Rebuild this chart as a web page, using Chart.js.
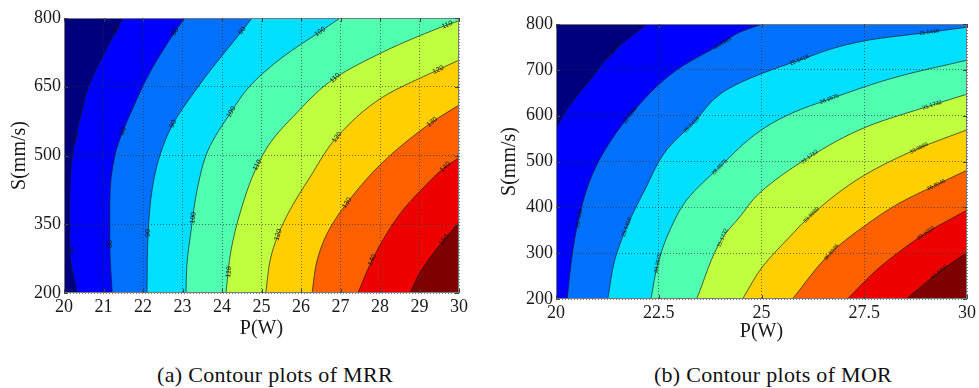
<!DOCTYPE html>
<html><head><meta charset="utf-8">
<script src="https://cdn.jsdelivr.net/npm/chart.js@4.4.1/dist/chart.umd.min.js"></script>
<style>
html,body{margin:0;padding:0;background:#fff;width:979px;height:388px;overflow:hidden;}
#ca{position:absolute;left:0;top:0;}
#cb{position:absolute;left:490px;top:6px;}
.cap{position:absolute;top:362px;font-family:"Liberation Serif",Tinos,"Times New Roman",serif;font-size:22px;letter-spacing:0.3px;line-height:26px;color:#111;white-space:nowrap;transform:translateX(-50%);}
</style></head><body>
<canvas id="ca" width="490" height="345"></canvas>
<canvas id="cb" width="489" height="345"></canvas>
<div class="cap" style="left:275px">(a) Contour plots of MRR</div>
<div class="cap" style="left:773px">(b) Contour plots of MOR</div>
<script>
// ---------- (a) MRR ----------
const mrrXTicks = [20,21,22,23,24,25,26,27,28,29,30];
const mrrYTicks = [200,350,500,650,800];
const mrrLevels = ['70','80','90','100','110','120','130','140','150'];
const mrr70  = [[20.33,200],[20.15,294],[20.15,403],[20.20,490],[20.30,540],[20.46,599],[20.61,647],[20.84,693],[21.29,767],[21.49,800]];
const mrr80  = [[21.22,200],[21.16,305],[21.16,403],[21.29,501],[21.49,553],[21.72,599],[21.97,647],[22.25,693],[22.81,770],[23.06,800]];
const mrr90  = [[22.10,200],[22.13,331],[22.23,425],[22.43,501],[22.76,569],[23.37,647],[23.77,693],[24.51,772],[24.76,800]];
const mrr100 = [[23.09,200],[23.11,261],[23.22,338],[23.37,425],[23.65,512],[24.23,595],[24.71,652],[25.54,715],[26.48,770],[26.99,800]];
const mrr110 = [[24.10,200],[24.23,294],[24.48,381],[24.84,468],[25.24,530],[25.77,582],[26.86,669],[28.08,726],[28.94,759],[29.70,785],[30,794]];
const mrr120 = [[25.11,200],[25.22,272],[25.42,327],[25.72,381],[26.23,453],[26.91,540],[28.08,628],[29.47,687],[30,708]];
const mrr130 = [[26.28,200],[26.41,272],[26.68,333],[27.16,396],[28.08,486],[29.32,573],[30,610]];
const mrr140 = [[27.44,200],[27.80,272],[28.18,331],[28.58,381],[29.11,431],[29.65,475],[30,495]];
const mrr150 = [[28.76,200],[28.96,237],[29.22,272],[29.62,316],[30,355]];
const mrrLabelAt = [[0,20.30,540],[0,20.15,294],[0,21.32,774],[1,21.49,553],[1,21.16,307],[1,22.81,770],
  [2,22.76,569],[2,22.13,331],[2,24.51,772],[3,24.23,595],[3,23.27,364],[3,26.48,770],
  [4,26.86,669],[4,24.17,246],[4,29.70,785],[4,24.89,479],[5,29.47,687],[5,26.91,540],[5,25.42,327],
  [6,29.32,573],[6,27.16,396],[7,29.65,475],[7,27.80,272],[8,29.62,316]];

// ---------- (b) MOR ----------
const morXTicks = [20,22.5,25,27.5,30];
const morYTicks = [200,300,400,500,600,700,800];
const morLevels = ['19.9104','22.7261','25.5418','28.3575','31.1732','33.9889','36.8046','39.6203','42.4360'];
const mor1 = [[20,573],[20.34,623],[20.83,678],[21.38,739],[22.21,800]];
const mor2 = [[20.27,200],[20.41,307],[20.56,377],[20.83,460],[21.19,525],[21.80,601],[22.94,700],[24.05,758],[24.47,782],[25.02,800]];
const mor3 = [[21.26,200],[21.43,285],[21.72,357],[22.16,438],[22.69,525],[23.30,580],[24.22,660],[25.92,721],[27.62,765],[29.08,782],[30,793]];
const mor4 = [[22.31,200],[22.48,278],[22.77,350],[23.18,416],[23.98,488],[25.0,569],[25.75,606],[26.65,636],[28.35,686],[30,721]];
const mor5 = [[23.42,200],[24.05,333],[24.47,379],[24.95,431],[26.17,510],[27.62,578],[29.15,623],[30,647]];
const mor6 = [[24.54,200],[25.02,270],[25.68,335],[26.21,383],[27.50,470],[28.83,529],[30,569]];
const mor7 = [[25.75,200],[26.70,302],[27.50,359],[28.35,409],[29.25,449],[30,481]];
const mor8 = [[27.09,200],[27.86,268],[28.47,311],[29.0,344],[30,394]];
const mor9 = [[28.52,200],[29.32,259],[30,302]];
const morLabelAt = [[0,21.38,739],[1,21.80,601],[1,24.05,758],[1,20.56,377],[2,23.30,580],[2,25.92,721],[2,29.08,782],[2,21.72,357],
  [3,26.65,636],[3,23.98,488],[3,22.48,278],[4,29.15,623],[4,26.17,510],[4,24.05,333],[5,28.83,529],[5,26.21,383],
  [6,29.25,449],[6,26.70,302],[7,29.0,344],[8,29.32,259]];

const bandColors = ['#00007F','#0000FF','#0070FF','#00DFFF','#50FFAF','#BFFF40','#FFCF00','#FF6000','#EF0000','#7F0000'];
const serif = '"Liberation Serif", Tinos, "Times New Roman", serif';

function makeChart(id, s) {
  const xMin = s.xTicks[0], xMax = s.xTicks[s.xTicks.length-1];
  const yMin = s.yTicks[0], yMax = s.yTicks[s.yTicks.length-1];
  const toPts = l => l.map(p => ({x:p[0], y:p[1]}));
  const sets = [];
  s.lines.forEach((l, i) => {
    // contour line; the band of higher values lies to its right, filled up to the right edge
    sets.push({ data: toPts(l), showLine: true, borderColor: 'rgba(25,25,25,0.85)', borderWidth: 0.8,
      backgroundColor: bandColors[i+1], fill: { value: xMax },
      cubicInterpolationMode: 'monotone', pointRadius: 0, pointHoverRadius: 0 });
    if (l[0][1] > yMin) {
      // line starts on the left edge: band also covers the full width below it
      sets.push({ data: [{x:xMin, y:yMin}, {x:xMin, y:l[0][1]}], showLine: true, borderWidth: 0,
        borderColor: 'rgba(0,0,0,0)', backgroundColor: bandColors[i+1], fill: { value: xMax },
        pointRadius: 0, pointHoverRadius: 0 });
    }
  });
  sets.reverse();

  const deco = {
    id: 'deco' + id,
    beforeDatasetsDraw(chart) {
      const a = chart.chartArea, c = chart.ctx;
      c.save(); c.fillStyle = bandColors[0];
      c.fillRect(a.left, a.top, a.right - a.left, a.bottom - a.top); c.restore();
    },
    afterDatasetsDraw(chart) {
      const a = chart.chartArea, c = chart.ctx, xs = chart.scales.x, ys = chart.scales.y;
      c.save();
      c.beginPath(); c.rect(a.left, a.top, a.right-a.left, a.bottom-a.top); c.clip();
      c.font = s.labelFont; c.fillStyle = '#111'; c.textAlign = 'center'; c.textBaseline = 'middle';
      s.labelAt.forEach(([li, x, y]) => {
        const line = s.lines[li];
        const px = xs.getPixelForValue(x), py = ys.getPixelForValue(y);
        let best = Infinity, ang = 0;
        for (let k = 0; k < line.length - 1; k++) {
          const ax = xs.getPixelForValue(line[k][0]), ay = ys.getPixelForValue(line[k][1]);
          const bx = xs.getPixelForValue(line[k+1][0]), by = ys.getPixelForValue(line[k+1][1]);
          const dx = bx-ax, dy = by-ay;
          const t = Math.max(0, Math.min(1, ((px-ax)*dx + (py-ay)*dy) / (dx*dx + dy*dy)));
          const d = Math.hypot(ax + t*dx - px, ay + t*dy - py);
          if (d < best) { best = d; ang = Math.atan2(dy, dx); }
        }
        if (ang > Math.PI/2) ang -= Math.PI;
        if (ang < -Math.PI/2) ang += Math.PI;
        c.save(); c.translate(px, py); c.rotate(ang); c.fillText(s.levels[li], 0, 0); c.restore();
      });
      c.restore();
    },
    afterDraw(chart) {
      const a = chart.chartArea, c = chart.ctx, xs = chart.scales.x, ys = chart.scales.y;
      c.save();
      c.strokeStyle = '#7a7a7a'; c.lineWidth = 1;
      c.strokeRect(Math.round(a.left)+0.5, Math.round(a.top)+0.5, Math.round(a.right-a.left)-1, Math.round(a.bottom-a.top)-1);
      c.strokeStyle = '#444';
      c.beginPath();
      s.xTicks.forEach(v => {
        const p = Math.round(xs.getPixelForValue(v)) + 0.5;
        c.moveTo(p, a.bottom); c.lineTo(p, a.bottom - 4);
        c.moveTo(p, a.top); c.lineTo(p, a.top + 4);
      });
      s.yTicks.forEach(v => {
        const p = Math.round(ys.getPixelForValue(v)) + 0.5;
        c.moveTo(a.left, p); c.lineTo(a.left + 4, p);
        c.moveTo(a.right, p); c.lineTo(a.right - 4, p);
      });
      c.stroke();
      c.restore();
    }
  };

  return new Chart(document.getElementById(id), {
    type: 'scatter',
    data: { datasets: sets },
    plugins: [deco],
    options: {
      indexAxis: 'y',
      responsive: false, animation: false, devicePixelRatio: 1, events: [],
      layout: { padding: { left: 0, top: 18, right: s.padRight, bottom: 0 } },
      plugins: { legend: { display: false }, tooltip: { enabled: false } },
      scales: {
        x: {
          type: 'linear', position: 'bottom', min: xMin, max: xMax,
          afterBuildTicks: sc => { sc.ticks = s.xTicks.map(v => ({ value: v })); },
          afterFit: sc => { sc.height = 52; },
          ticks: { font: { family: serif, size: 18 }, color: '#1a1a1a', padding: 3, maxRotation: 0, autoSkip: false,
                   callback: v => String(v) },
          grid: { color: 'rgba(45,45,45,0.8)', lineWidth: 0.8, drawTicks: false, z: 1 },
          border: { display: false, dash: [1, 2] },
          title: { display: true, text: 'P(W)', font: { family: serif, size: 20 }, color: '#1a1a1a',
                   padding: { top: 0, bottom: s.xTitlePad } }
        },
        y: {
          type: 'linear', position: 'left', min: yMin, max: yMax,
          afterBuildTicks: sc => { sc.ticks = s.yTicks.map(v => ({ value: v })); },
          afterFit: sc => { sc.width = s.yW; },
          ticks: { font: { family: serif, size: 18 }, color: '#1a1a1a', padding: 3, autoSkip: false,
                   callback: v => String(v) },
          grid: { color: 'rgba(45,45,45,0.8)', lineWidth: 0.8, drawTicks: false, z: 1 },
          border: { display: false, dash: [1, 2] },
          title: { display: true, text: 'S(mm/s)', font: { family: serif, size: 20 }, color: '#1a1a1a',
                   padding: { top: 8, bottom: 0 } }
        }
      }
    }
  });
}

function drawAll() {
  makeChart('ca', { xTicks: mrrXTicks, yTicks: mrrYTicks, levels: mrrLevels,
    lines: [mrr70, mrr80, mrr90, mrr100, mrr110, mrr120, mrr130, mrr140, mrr150],
    labelAt: mrrLabelAt, labelFont: '7px "Liberation Sans", Arial, sans-serif',
    yW: 64, padRight: 31, xTitlePad: 4 });
  makeChart('cb', { xTicks: morXTicks, yTicks: morYTicks, levels: morLevels,
    lines: [mor1, mor2, mor3, mor4, mor5, mor6, mor7, mor8, mor9],
    labelAt: morLabelAt, labelFont: '5.5px "Liberation Sans", Arial, sans-serif',
    yW: 66, padRight: 11, xTitlePad: 7 });
}
if (document.fonts && document.fonts.load) {
  Promise.all([document.fonts.load('18px "Liberation Serif"'), document.fonts.load('7px "Liberation Sans"')])
    .then(drawAll, drawAll);
} else { drawAll(); }
</script>
</body></html>
